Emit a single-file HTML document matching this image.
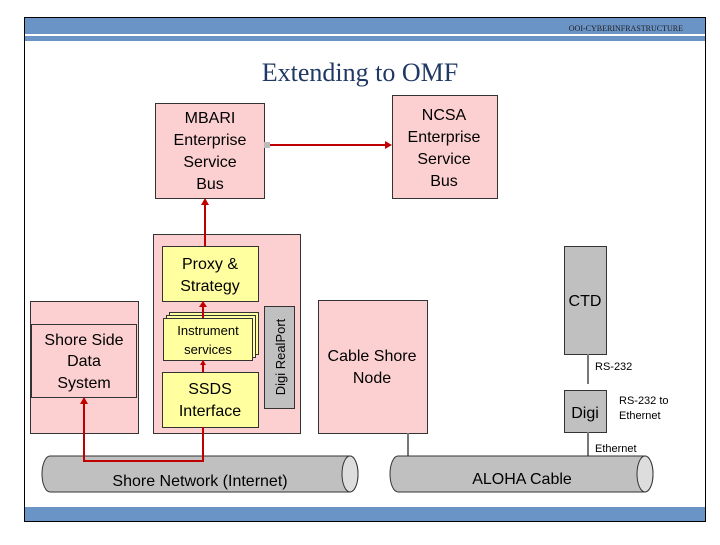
<!DOCTYPE html>
<html><head><style>
body{margin:0;width:720px;height:540px;background:#fff;overflow:hidden}
</style></head><body>
<svg width="720" height="540" xmlns="http://www.w3.org/2000/svg" font-family="Liberation Sans, sans-serif">
<rect x="24.5" y="17.5" width="681" height="504" fill="#fff" stroke="#000"/>
<rect x="25" y="18" width="680" height="16" fill="#6a93c6"/>
<rect x="25" y="36" width="680" height="5" fill="#6a93c6"/>
<rect x="25" y="507" width="680" height="14" fill="#6a93c6"/>
<text x="683" y="31" font-family="Liberation Serif, serif" font-size="8" text-anchor="end" fill="#222">OOI-CYBERINFRASTRUCTURE</text>
<text x="360" y="81" font-family="Liberation Serif, serif" font-size="26" text-anchor="middle" fill="#1f3864">Extending to OMF</text>
<g stroke="#333" stroke-width="1">
<rect x="155.5" y="103.5" width="109" height="95" fill="#fcd0d0"/>
<rect x="392.5" y="95.5" width="105" height="103" fill="#fcd0d0"/>
<rect x="153.5" y="234.5" width="147" height="199" fill="#fcd0d0"/>
<rect x="30.5" y="301.5" width="108" height="132" fill="#fcd0d0"/>
<rect x="31.5" y="324.5" width="105" height="73" fill="#fcd0d0"/>
<rect x="318.5" y="300.5" width="109" height="133" fill="#fcd0d0"/>
<rect x="162.5" y="246.5" width="96" height="55" fill="#ffffa0"/>
<rect x="169.5" y="312.5" width="89" height="42" fill="#ffffa0"/>
<rect x="166.5" y="315.5" width="89" height="42" fill="#ffffa0"/>
<rect x="163.5" y="318.5" width="89" height="42" fill="#ffffa0"/>
<rect x="162.5" y="372.5" width="96" height="55" fill="#ffffa0"/>
<rect x="264.5" y="306.5" width="30" height="102" fill="#c0c0c0"/>
<rect x="564.5" y="246.5" width="42" height="108" fill="#c0c0c0"/>
<rect x="564.5" y="390.5" width="42" height="42" fill="#c0c0c0"/>
</g>
<g stroke="#777" stroke-width="2">
<line x1="588" y1="354" x2="588" y2="384"/>
<line x1="588" y1="432" x2="588" y2="456"/>
<line x1="408" y1="433" x2="408" y2="456"/>
</g>
<g stroke="#333" fill="#c0c0c0">
<path d="M50 456 H350 A8 18 0 0 1 350 492 H50 A8 18 0 0 1 50 456 Z"/>
<ellipse cx="350" cy="474" rx="8" ry="18" fill="#ddd"/>
<path d="M398 456 H645 A8 18 0 0 1 645 492 H398 A8 18 0 0 1 398 456 Z"/>
<ellipse cx="645" cy="474" rx="8" ry="18" fill="#ddd"/>
</g>
<g stroke="#c00000" stroke-width="2" fill="none">
<line x1="270" y1="145" x2="386" y2="145"/>
<line x1="205" y1="246" x2="205" y2="204"/>
<line x1="203" y1="318" x2="203" y2="306"/>
<line x1="203" y1="364" x2="203" y2="372"/>
<polyline points="203,427 203,461 84,461 84,402"/>
</g>
<rect x="264" y="142" width="6" height="6" fill="#bbb"/>
<g fill="#c00000">
<polygon points="392,145 385,141 385,149"/>
<polygon points="205,198 201,205 209,205"/>
<polygon points="203,301 199,307 207,307"/>
<polygon points="203,360 200,365 206,365"/>
<polygon points="84,397 80,404 88,404"/>
</g>
<g font-size="16" text-anchor="middle" fill="#000">
<text x="210" y="123">MBARI</text><text x="210" y="145">Enterprise</text><text x="210" y="167">Service</text><text x="210" y="189">Bus</text>
<text x="444" y="120">NCSA</text><text x="444" y="142">Enterprise</text><text x="444" y="164">Service</text><text x="444" y="186">Bus</text>
<text x="210" y="269">Proxy &amp;</text><text x="210" y="291">Strategy</text>
<text x="84" y="345">Shore Side</text><text x="84" y="366">Data</text><text x="84" y="388">System</text>
<text x="210" y="394">SSDS</text><text x="210" y="416">Interface</text>
<text x="372" y="361">Cable Shore</text><text x="372" y="383">Node</text>
<text x="585" y="306">CTD</text>
<text x="585" y="418">Digi</text>
<text x="200" y="486">Shore Network (Internet)</text>
<text x="522" y="484">ALOHA Cable</text>
</g>
<g font-size="13" text-anchor="middle"><text x="208" y="335">Instrument</text><text x="208" y="354">services</text></g>
<text transform="translate(285,357) rotate(-90)" font-size="13" text-anchor="middle">Digi RealPort</text>
<g font-size="11"><text x="595" y="370">RS-232</text><text x="619" y="404">RS-232 to</text><text x="619" y="419">Ethernet</text><text x="595" y="452">Ethernet</text></g>
</svg>
</body></html>
